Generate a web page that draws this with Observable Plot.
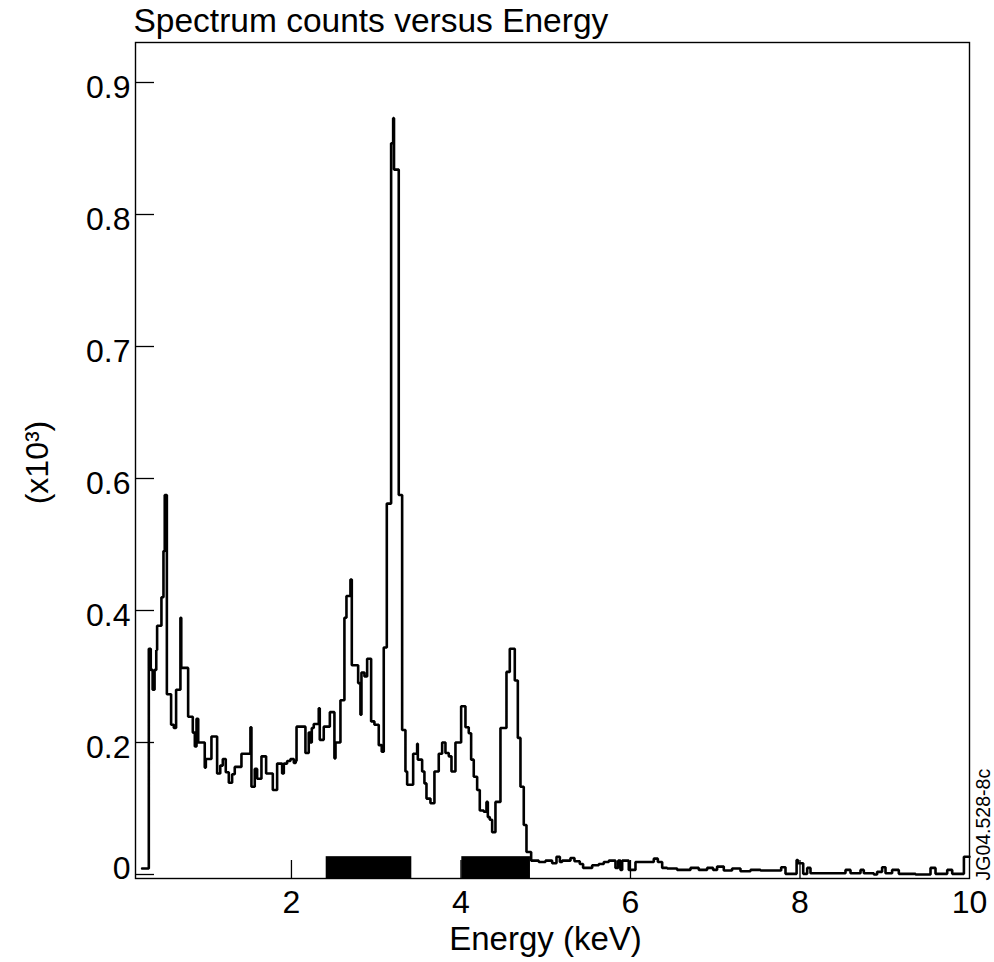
<!DOCTYPE html>
<html><head><meta charset="utf-8">
<script src="https://cdn.jsdelivr.net/npm/d3@7"></script>
<script src="https://cdn.jsdelivr.net/npm/@observablehq/plot@0.6"></script>
<style>body{margin:0;background:#fff} svg{display:block}</style>
</head><body><div id="chart"></div>
<script>
// Spectrum histogram: left edge of each step (keV) and counts (x10^3, as labelled)
const energy = [
0.238,0.317,0.340,0.362,0.385,0.405,0.415,0.466,0.490,0.505,0.530,0.580,0.612,0.639,0.690,0.700,
0.781,0.836,0.860,0.880,0.900,0.977,0.990,1.056,1.123,1.160,1.190,1.225,1.261,1.300,1.331,1.410,
1.516,1.528,1.567,1.595,1.646,1.701,1.780,1.831,1.890,1.910,1.949,1.988,2.028,2.050,2.060,2.165,
2.204,2.224,2.240,2.263,2.322,2.334,2.381,2.453,2.507,2.520,2.578,2.625,2.649,2.696,2.712,2.787,
2.814,2.826,2.861,2.893,2.940,2.979,3.030,3.065,3.089,3.125,3.176,3.200,3.210,3.266,3.306,3.345,
3.365,3.436,3.483,3.491,3.542,3.569,3.593,3.640,3.687,3.738,3.778,3.817,3.856,3.888,3.935,4.002,
4.053,4.092,4.120,4.151,4.191,4.222,4.269,4.301,4.317,4.340,4.368,4.407,4.466,4.537,4.576,4.635,
4.671,4.702,4.741,4.773,4.828,4.918,4.997,5.076,5.127,5.167,5.194,5.292,5.339,5.402,5.441,5.548,
5.626,5.685,5.744,5.823,5.855,5.882,5.902,5.980,6.059,6.275,6.323,6.374,6.433,6.551,6.708,6.806,
6.904,6.975,7.022,7.101,7.199,7.298,7.416,7.534,7.778,7.829,7.960,7.975,8.038,8.085,8.124,8.537,
8.596,8.714,8.753,8.871,8.910,8.969,9.009,9.087,9.166,9.363,9.540,9.599,9.737,9.796,9.934,10.000
];
const counts = [
0.009,0.342,0.310,0.280,0.310,0.340,0.377,0.420,0.490,0.575,0.273,0.227,0.222,0.280,0.389,0.313,
0.239,0.215,0.194,0.236,0.200,0.162,0.175,0.209,0.153,0.165,0.175,0.155,0.139,0.152,0.163,0.183,
0.223,0.133,0.160,0.145,0.179,0.153,0.128,0.168,0.153,0.168,0.172,0.175,0.169,0.172,0.224,0.184,
0.215,0.200,0.222,0.228,0.252,0.204,0.224,0.246,0.176,0.200,0.264,0.389,0.422,0.447,0.317,0.290,
0.242,0.306,0.300,0.327,0.232,0.227,0.196,0.186,0.344,0.562,0.854,0.873,0.834,0.575,0.219,0.156,
0.136,0.183,0.198,0.174,0.156,0.138,0.115,0.108,0.156,0.183,0.200,0.184,0.179,0.156,0.200,0.255,
0.223,0.214,0.174,0.148,0.128,0.097,0.095,0.110,0.087,0.083,0.064,0.110,0.222,0.307,0.342,0.294,
0.207,0.133,0.075,0.034,0.021,0.019,0.021,0.017,0.027,0.019,0.021,0.025,0.020,0.016,0.010,0.014,
0.016,0.019,0.021,0.010,0.021,0.007,0.021,0.007,0.019,0.024,0.019,0.010,0.009,0.007,0.010,0.007,
0.010,0.007,0.012,0.006,0.009,0.005,0.007,0.006,0.011,0.001,0.022,0.017,0.001,0.010,0.002,0.007,
0.002,0.007,0.002,0.000,0.004,0.011,0.002,0.007,0.001,0.000,0.010,0.001,0.007,0.001,0.027,0.027
];
// Marked energy bands (black blocks on the axis)
const bandStart = [2.41, 4.01];
const bandEnd = [3.42, 4.82];
const bandTop = 0.027;
// Axis ticks as printed (the y ticks are evenly spaced although the labels are not)
const xTicks = [2, 4, 6, 8, 10];
const yTicks = [0, 0.2, 0.4, 0.6, 0.7, 0.8, 0.9];
const xDomain = [0.16, 10];
const titleText = "Spectrum counts versus Energy";
const xLabel = "Energy (keV)";
const yLabel = "(x10³)";
const codeLabel = "JG04.528-8c";

// piecewise mapping of printed values onto evenly spaced tick positions
const toTick = d3.scaleLinear().domain(yTicks).range(d3.range(yTicks.length));
const tickIdx = d3.range(yTicks.length);

const spectrum = energy.map((e, i) => ({e, c: toTick(counts[i])}));
const bands = bandStart.map((s, i) => ({x1: s, x2: bandEnd[i], top: toTick(bandTop)}));

const W = 994, H = 962, mL = 135, mR = 25, mT = 42, mB = 84;
const zeroPx = 874, tickStepPx = 132;
const plotH = H - mT - mB, plotW = W - mL - mR;
const yDomain = [-(H - mB - zeroPx) / tickStepPx, (zeroPx - mT) / tickStepPx];
const font = "'Liberation Sans', Arial, Helvetica, sans-serif";

const chart = Plot.plot({
  width: W, height: H,
  marginLeft: mL, marginRight: mR, marginTop: mT, marginBottom: mB,
  style: {fontFamily: font, background: "#fff", color: "#000"},
  x: {domain: xDomain, axis: null},
  y: {domain: yDomain, axis: null},
  marks: [
    Plot.rect(bands, {x1: "x1", x2: "x2", y1: yDomain[0], y2: "top", fill: "#000"}),
    Plot.line(spectrum, {x: "e", y: "c", curve: "step-after", stroke: "#000", strokeWidth: 2.6, strokeLinejoin: "miter"}),
    Plot.ruleX(xTicks.filter(d => d < xDomain[1]), {x: d => d, insetTop: plotH - 18, stroke: "#000", strokeWidth: 1.3}),
    Plot.ruleY(tickIdx, {y: d => d, insetRight: plotW - 19, stroke: "#000", strokeWidth: 1.3}),
    Plot.frame({stroke: "#000", strokeWidth: 1.4}),
    Plot.axisY(tickIdx.filter(i => i > 0), {anchor: "left", tickSize: 0, tickPadding: 5, fontSize: 32, dy: 5, label: null, tickFormat: i => String(yTicks[i])}),
    Plot.axisY([0], {anchor: "left", tickSize: 0, tickPadding: 5, fontSize: 32, dy: -6, label: null, tickFormat: i => String(yTicks[i])}),
    Plot.axisX(xTicks, {anchor: "bottom", tickSize: 0, tickPadding: 12, fontSize: 32, label: null, tickFormat: d => String(d)}),
    Plot.text([titleText], {text: d => d, frameAnchor: "top-left", textAnchor: "start", lineAnchor: "bottom", dx: -2, dy: -11, fontSize: 33.5}),
    Plot.text([xLabel], {text: d => d, frameAnchor: "bottom", lineAnchor: "bottom", dx: -7, dy: 71, fontSize: 33}),
    Plot.text([yLabel], {text: d => d, frameAnchor: "left", rotate: -90, textAnchor: "middle", lineAnchor: "bottom", dx: -88, dy: 2, fontSize: 32}),
    Plot.text([codeLabel], {text: d => d, frameAnchor: "bottom-right", rotate: -90, textAnchor: "start", lineAnchor: "bottom", dx: 20, dy: 2, fontSize: 19.5})
  ]
});
document.getElementById("chart").appendChild(chart);
</script>
</body></html>
